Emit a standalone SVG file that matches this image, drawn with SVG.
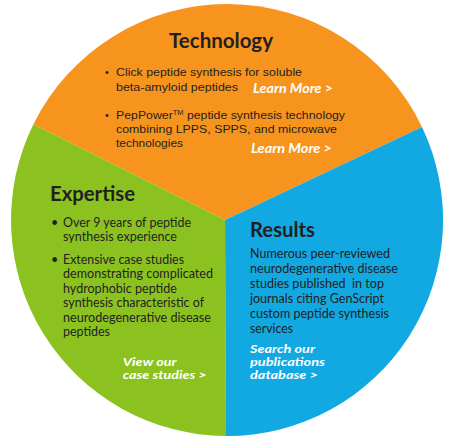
<svg xmlns="http://www.w3.org/2000/svg" width="454" height="448" viewBox="0 0 454 448">
<style>
.title{font-family:Lato,"Open Sans",sans-serif;font-weight:bold;font-size:20px;fill:#231f20}
.arial{font-family:"Liberation Sans",Arial,sans-serif;font-size:10.8px;fill:#231f20}
.body{font-family:Lato,"Open Sans",sans-serif;font-size:12.5px;fill:#231f20}
.link{font-family:Lato,"Open Sans",sans-serif;font-weight:bold;font-style:italic;font-size:11.5px;fill:#ffffff}
.learn{font-size:12.5px}
</style>
<rect width="454" height="448" fill="#ffffff"/>
<g id="technology">
<path d="M225,220 L33.4,124.3 A216,216 0 0,1 422,127 Z" fill="#f7941e"/>
<text class="title" x="169" y="48" textLength="104" lengthAdjust="spacingAndGlyphs">Technology</text>
<text class="arial" x="105" y="76">•</text>
<text class="arial" x="116" y="76" textLength="186" lengthAdjust="spacingAndGlyphs">Click peptide synthesis for soluble</text>
<text class="arial" x="116" y="90.5" textLength="122" lengthAdjust="spacingAndGlyphs">beta-amyloid peptides</text>
<text class="link learn" x="253" y="92.7" textLength="80" lengthAdjust="spacingAndGlyphs">Learn More &gt;</text>
<text class="arial" x="105" y="119">•</text>
<text class="arial" x="116" y="119" textLength="229" lengthAdjust="spacingAndGlyphs">PepPower<tspan font-size="6.5" dy="-4">TM</tspan><tspan dy="4"> peptide synthesis technology</tspan></text>
<text class="arial" x="116" y="133" textLength="221" lengthAdjust="spacingAndGlyphs">combining LPPS, SPPS, and microwave</text>
<text class="arial" x="116" y="147" textLength="67" lengthAdjust="spacingAndGlyphs">technologies</text>
<text class="link learn" x="251" y="152.7" textLength="81" lengthAdjust="spacingAndGlyphs">Learn More &gt;</text>
</g>
<g id="expertise">
<path d="M225,220 L226,436 A216,216 0 0,1 33.4,124.3 Z" fill="#8cc220"/>
<text class="title" x="50" y="201" textLength="85" lengthAdjust="spacingAndGlyphs">Expertise</text>
<text class="body" x="51" y="226.7">•</text>
<text class="body" x="63" y="226.7" textLength="128" lengthAdjust="spacingAndGlyphs">Over 9 years of peptide</text>
<text class="body" x="63" y="240.5" textLength="114" lengthAdjust="spacingAndGlyphs">synthesis experience</text>
<text class="body" x="51" y="263.5">•</text>
<text class="body" x="63" y="263.5" textLength="121" lengthAdjust="spacingAndGlyphs">Extensive case studies</text>
<text class="body" x="63" y="278" textLength="150" lengthAdjust="spacingAndGlyphs">demonstrating complicated</text>
<text class="body" x="63" y="292.5" textLength="114" lengthAdjust="spacingAndGlyphs">hydrophobic peptide</text>
<text class="body" x="63" y="307" textLength="141" lengthAdjust="spacingAndGlyphs">synthesis characteristic of</text>
<text class="body" x="63" y="321.5" textLength="148" lengthAdjust="spacingAndGlyphs">neurodegenerative disease</text>
<text class="body" x="63" y="336" textLength="47" lengthAdjust="spacingAndGlyphs">peptides</text>
<text class="link" x="122.7" y="365.7" textLength="54" lengthAdjust="spacingAndGlyphs">View our</text>
<text class="link" x="122.7" y="379" textLength="84" lengthAdjust="spacingAndGlyphs">case studies &gt;</text>
</g>
<g id="results">
<path d="M225,220 L422,127 A216,216 0 0,1 226,436 Z" fill="#12a8e2"/>
<text class="title" x="250" y="236.7" textLength="65" lengthAdjust="spacingAndGlyphs">Results</text>
<text class="body" x="250" y="258.3" textLength="140" lengthAdjust="spacingAndGlyphs">Numerous peer-reviewed</text>
<text class="body" x="250" y="273" textLength="148" lengthAdjust="spacingAndGlyphs">neurodegenerative disease</text>
<text class="body" x="250" y="288" textLength="134" lengthAdjust="spacingAndGlyphs" xml:space="preserve">studies published  in top</text>
<text class="body" x="250" y="303" textLength="134" lengthAdjust="spacingAndGlyphs">journals citing GenScript</text>
<text class="body" x="250" y="317.7" textLength="139" lengthAdjust="spacingAndGlyphs">custom peptide synthesis</text>
<text class="body" x="250" y="332.5" textLength="43" lengthAdjust="spacingAndGlyphs">services</text>
<text class="link" x="250" y="353.3" textLength="65" lengthAdjust="spacingAndGlyphs">Search our</text>
<text class="link" x="250" y="366" textLength="75" lengthAdjust="spacingAndGlyphs">publications</text>
<text class="link" x="250" y="379" textLength="68" lengthAdjust="spacingAndGlyphs">database &gt;</text>
</g>
<g id="connectors"/>
</svg>
